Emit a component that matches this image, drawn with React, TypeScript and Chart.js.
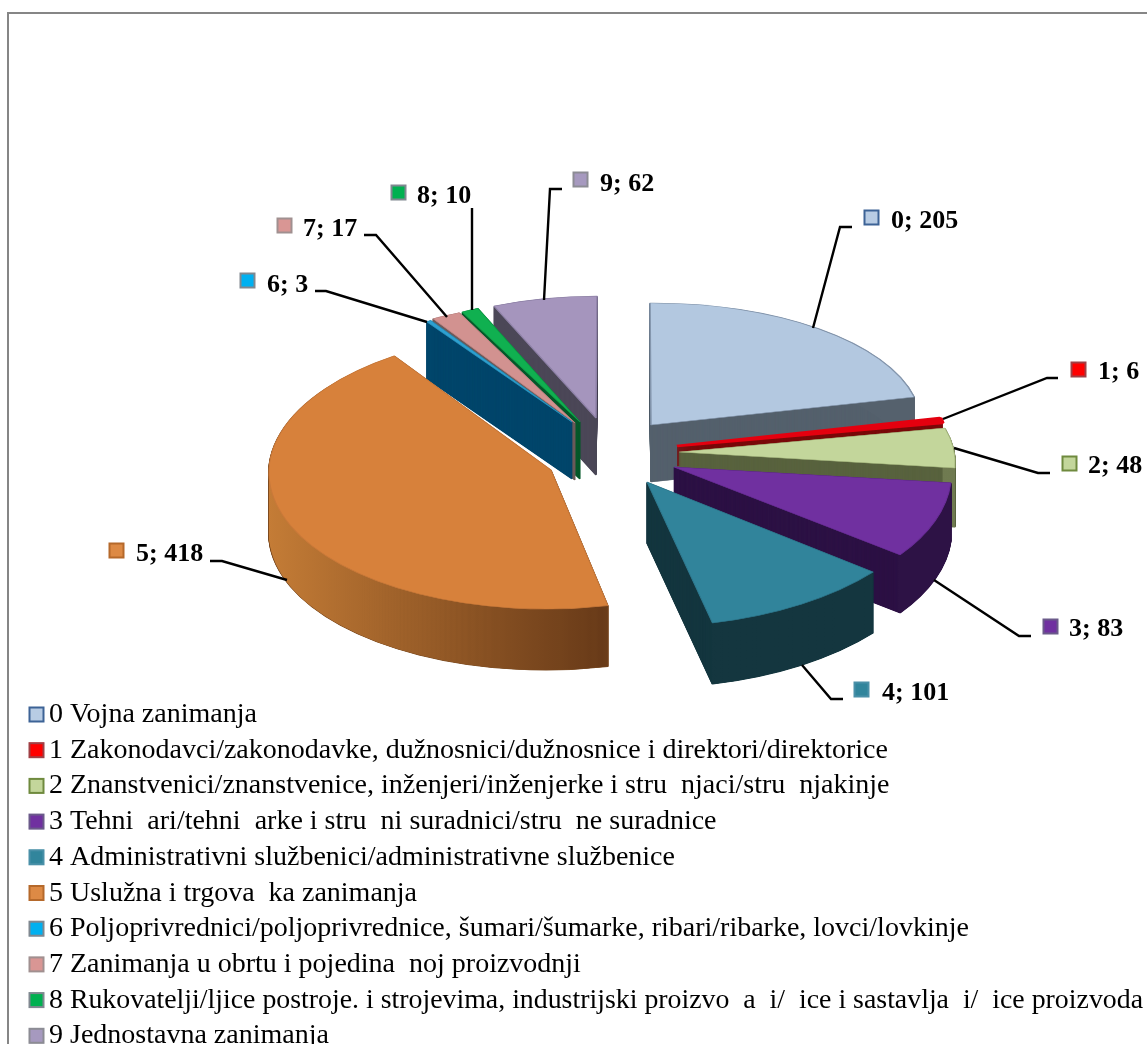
import React, { useEffect, useRef } from "react";
import { Chart, registerables } from "chart.js";

Chart.register(...registerables);

const categories = ["0", "1", "2", "3", "4", "5", "6", "7", "8", "9"];
const values = [205, 6, 48, 83, 101, 418, 3, 17, 10, 62];
const legendTexts = [
  "0 Vojna zanimanja",
  "1 Zakonodavci/zakonodavke, dužnosnici/dužnosnice i direktori/direktorice",
  "2 Znanstvenici/znanstvenice, inženjeri/inženjerke i stru  njaci/stru  njakinje",
  "3 Tehni  ari/tehni  arke i stru  ni suradnici/stru  ne suradnice",
  "4 Administrativni službenici/administrativne službenice",
  "5 Uslužna i trgova  ka zanimanja",
  "6 Poljoprivrednici/poljoprivrednice, šumari/šumarke, ribari/ribarke, lovci/lovkinje",
  "7 Zanimanja u obrtu i pojedina  noj proizvodnji",
  "8 Rukovatelji/ljice postroje. i strojevima, industrijski proizvo  a  i/  ice i sastavlja  i/  ice proizvoda",
  "9 Jednostavna zanimanja",
];

const topColors = ["#b3c8e0", "#e4000f", "#c3d69b", "#7030a0", "#31849b", "#d7813b", "#2ea0d0", "#d29290", "#10b050", "#a595bd"];
const edgeColors = ["#8496ad", "#e4000f", "#a9bb80", "#6a2d98", "#2f7a90", "#c9793a", "#2a95c0", "#bf8583", "#0fa048", "#8f82a8"];
const edgeWidths = [3, 10, 2, 2, 2, 2, 2, 2, 2, 3];
const faceColors = ["#55616d", "#7a0a0a", "#59633f", "#2d1245", "#14363f", "#7a4a20", "#00466b", "#6b5a5a", "#05582a", "#4b4757"];
const wallLeft = ["#55616d", "#7a0a0a", "#8a9668", "#2d1245", "#14363f", "#c47c36", "#00466b", "#6b5a5a", "#05582a", "#4b4757"];
const wallRight = ["#55616d", "#7a0a0a", "#6f7a50", "#2d1245", "#14363f", "#683a18", "#00466b", "#6b5a5a", "#05582a", "#4b4757"];
const wallSpan = [1, 1, 1, 1, 1, 0.2, 1, 1, 1, 1];
const swatchFill = ["#b8cce4", "#ff0000", "#c3d69b", "#7030a0", "#31859c", "#dd8a45", "#00b0f0", "#d99694", "#00b050", "#a699bf"];
const swatchEdge = ["#3d6396", "#a04045", "#6f8a3e", "#6b5a8a", "#4a90a8", "#b5692b", "#808890", "#a09090", "#808890", "#8c8c94"];

// Painter's order of the exploded slices, and the oblique projection of each one.
const paintOrder = [9, 8, 7, 6, 0, 1, 2, 3, 4, 5];
const projections = [
  { ax: 651, ay: 425, px: 270, py: -1.5, qx: -1, qy: -122, depth: 57 },
  { ax: 677, ay: 446, px: 269, py: 0, qx: 2, qy: -129, depth: 20 },
  { ax: 679, ay: 452, px: 275, py: -1.3, qx: -26, qy: -127, depth: 59 },
  { ax: 674, ay: 467, px: 277, py: -4, qx: -18, qy: -144, depth: 58 },
  { ax: 647, ay: 482, px: 290, py: -2, qx: -2, qy: -145, depth: 61 },
  { ax: 551, ay: 470, px: 282, py: 0, qx: 5, qy: -139, depth: 61 },
  { ax: 572, ay: 422, px: 255, py: 0, qx: 0, qy: -122, depth: 57 },
  { ax: 575, ay: 423, px: 267, py: 8, qx: 7, qy: -120, depth: 57 },
  { ax: 580, ay: 422, px: 264, py: -4.5, qx: 3, qy: -126, depth: 57 },
  { ax: 596, ay: 418, px: 259, py: 0, qx: 1, qy: -122, depth: 57 },
];

const labelPlacement = [
  { sx: 864, sy: 210, tx: 891, ty: 228, line: [[852, 227], [840, 227], [813, 328]] },
  { sx: 1071, sy: 362, tx: 1098, ty: 379, line: [[1058, 378], [1047, 378], [943, 419]] },
  { sx: 1062, sy: 456, tx: 1088, ty: 473, line: [[1050, 473], [1038, 473], [954, 448]] },
  { sx: 1043, sy: 619, tx: 1069, ty: 636, line: [[1031, 636], [1019, 636], [934, 580]] },
  { sx: 854, sy: 682, tx: 882, ty: 700, line: [[843, 699], [831, 699], [802, 665]] },
  { sx: 109, sy: 543, tx: 136, ty: 561, line: [[210, 561], [222, 561], [287, 580]] },
  { sx: 240, sy: 273, tx: 267, ty: 292, line: [[315, 291], [326, 291], [427, 322]] },
  { sx: 277, sy: 218, tx: 303, ty: 236, line: [[364, 235], [376, 235], [447, 317]] },
  { sx: 391, sy: 185, tx: 417, ty: 203, line: [[472, 208], [472, 310]] },
  { sx: 573, sy: 172, tx: 600, ty: 191, line: [[562, 189], [550, 189], [544, 300]] },
];

const swatch = (ctx: CanvasRenderingContext2D, i: number, x: number, y: number, s: number) => {
  ctx.fillStyle = swatchFill[i];
  ctx.fillRect(x, y, s, s);
  ctx.strokeStyle = swatchEdge[i];
  ctx.lineWidth = 2;
  ctx.strokeRect(x + 0.5, y + 0.5, s - 1, s - 1);
};

const pie3d = {
  id: "pie3d",
  beforeDatasetsDraw(chart: any) {
    const ctx: CanvasRenderingContext2D = chart.ctx;
    const arcs = chart.getDatasetMeta(0).data;

    ctx.save();
    ctx.fillStyle = "#868686";
    ctx.fillRect(7, 12, chart.width - 7, 2);
    ctx.fillRect(7, 12, 2, chart.height - 12);
    ctx.restore();

    const drawLayer = (arc: any, p: any, dy: number, over: any, inner: number) => {
      const R = arc.outerRadius;
      const a = p.px / R, b = p.py / R, c = -p.qx / R, d = -p.qy / R;
      const e = p.ax - a * arc.x - c * arc.y;
      const f = p.ay + dy - b * arc.x - d * arc.y;
      ctx.save();
      ctx.transform(a, b, c, d, e, f);
      const savedOptions = arc.options;
      const savedInner = arc.innerRadius;
      arc.options = { ...savedOptions, ...over };
      arc.innerRadius = inner;
      arc.draw(ctx);
      arc.options = savedOptions;
      arc.innerRadius = savedInner;
      ctx.restore();
    };

    paintOrder.forEach((i) => {
      const arc = arcs[i];
      const p = projections[i];
      const R = arc.outerRadius;
      for (let dy = p.depth; dy >= 0.5; dy -= 0.5) {
        drawLayer(arc, p, dy, { backgroundColor: faceColors[i], borderColor: faceColors[i], borderWidth: 3 }, 0);
      }
      const grad = ctx.createLinearGradient(arc.x - R, arc.y, arc.x + R * wallSpan[i], arc.y);
      grad.addColorStop(0, wallLeft[i]);
      grad.addColorStop(1, wallRight[i]);
      for (let dy = p.depth; dy >= 1; dy--) {
        drawLayer(arc, p, dy, { backgroundColor: grad, borderWidth: 0 }, R - 5);
      }
      drawLayer(arc, p, 0, { borderWidth: edgeWidths[i] }, 0);
    });

    // data labels and leader lines
    ctx.save();
    ctx.font = 'bold 26px "Liberation Serif"';
    ctx.textBaseline = "alphabetic";
    ctx.textAlign = "left";
    labelPlacement.forEach((l, i) => {
      swatch(ctx, i, l.sx, l.sy, 15);
      ctx.fillStyle = "#000";
      ctx.fillText(`${categories[i]}; ${values[i]}`, l.tx, l.ty);
      ctx.beginPath();
      l.line.forEach(([x, y], k) => (k ? ctx.lineTo(x, y) : ctx.moveTo(x, y)));
      ctx.strokeStyle = "#000";
      ctx.lineWidth = 2.4;
      ctx.stroke();
    });

    // legend
    ctx.font = '28px "Liberation Serif"';
    chart.data.labels.forEach((text: string, i: number) => {
      const base = 722 + i * 35.7;
      swatch(ctx, i, 29, base - 15, 15);
      ctx.fillStyle = "#000";
      ctx.fillText(text, 49, base, 1094);
    });
    ctx.restore();
    return false;
  },
};

export default function App() {
  const ref = useRef<HTMLCanvasElement | null>(null);
  useEffect(() => {
    const chart = new Chart(ref.current as HTMLCanvasElement, {
      type: "pie",
      data: {
        labels: legendTexts,
        datasets: [
          {
            data: values,
            backgroundColor: topColors,
            borderColor: edgeColors,
            borderWidth: 2,
          },
        ],
      },
      options: {
        responsive: false,
        animation: false,
        layout: { padding: 0 },
        plugins: { legend: { display: false }, tooltip: { enabled: false }, title: { display: false } },
      },
      plugins: [pie3d],
    } as any);
    return () => chart.destroy();
  }, []);
  return (
    <div style={{ position: "absolute", left: 0, top: 0, width: 1147, height: 1044, background: "#fff", overflow: "hidden" }}>
      <canvas ref={ref} width={1147} height={1044} style={{ display: "block" }} />
    </div>
  );
}
